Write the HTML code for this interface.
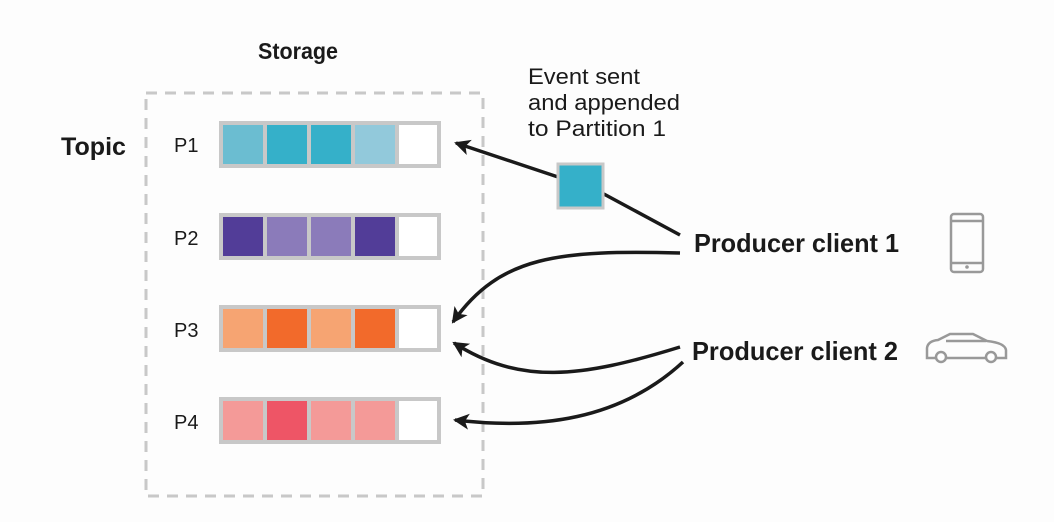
<!DOCTYPE html>
<html><head><meta charset="utf-8"><style>
html,body{margin:0;padding:0;background:#fdfdfd;}
svg{display:block;}
text{font-family:"Liberation Sans",sans-serif;fill:#1a1a1a;}
</style></head><body>
<svg width="1054" height="522" viewBox="0 0 1054 522" xmlns="http://www.w3.org/2000/svg">
<defs>
<marker id="a2" markerWidth="18" markerHeight="18" refX="14" refY="9" orient="auto" markerUnits="userSpaceOnUse">
<path d="M0,1 L16,9 L0,17 L4,9 Z" fill="#1a1a1a"/>
</marker>
</defs>
<rect x="146" y="93" width="337" height="403" fill="none" stroke="#c8c8c8" stroke-width="3" stroke-dasharray="11,8"/>
<text x="258" y="59" font-size="23" font-weight="bold" textLength="80" lengthAdjust="spacingAndGlyphs">Storage</text>
<text x="61" y="155" font-size="25" font-weight="bold" textLength="65" lengthAdjust="spacingAndGlyphs">Topic</text>
<text x="174" y="152" font-size="20">P1</text>
<text x="174" y="245" font-size="20">P2</text>
<text x="174" y="337" font-size="20">P3</text>
<text x="174" y="429" font-size="20">P4</text>
<g stroke="#c8c8c8" stroke-width="4">
<rect x="221" y="123" width="218" height="43" fill="#c8c8c8"/>
<rect x="221" y="215" width="218" height="43" fill="#c8c8c8"/>
<rect x="221" y="307" width="218" height="43" fill="#c8c8c8"/>
<rect x="221" y="399" width="218" height="43" fill="#c8c8c8"/>
</g>
<g>
<rect x="223" y="125" width="40" height="39" fill="#6bbdd1"/><rect x="267" y="125" width="40" height="39" fill="#35b0c9"/><rect x="311" y="125" width="40" height="39" fill="#35b0c9"/><rect x="355" y="125" width="40" height="39" fill="#92c9db"/><rect x="399" y="125" width="38" height="39" fill="#fff"/>
<rect x="223" y="217" width="40" height="39" fill="#523d98"/><rect x="267" y="217" width="40" height="39" fill="#8b7bba"/><rect x="311" y="217" width="40" height="39" fill="#8b7bba"/><rect x="355" y="217" width="40" height="39" fill="#523d98"/><rect x="399" y="217" width="38" height="39" fill="#fff"/>
<rect x="223" y="309" width="40" height="39" fill="#f6a472"/><rect x="267" y="309" width="40" height="39" fill="#f26a2b"/><rect x="311" y="309" width="40" height="39" fill="#f6a472"/><rect x="355" y="309" width="40" height="39" fill="#f26a2b"/><rect x="399" y="309" width="38" height="39" fill="#fff"/>
<rect x="223" y="401" width="40" height="39" fill="#f49a98"/><rect x="267" y="401" width="40" height="39" fill="#ee5566"/><rect x="311" y="401" width="40" height="39" fill="#f49a98"/><rect x="355" y="401" width="40" height="39" fill="#f49a98"/><rect x="399" y="401" width="38" height="39" fill="#fff"/>
</g>
<text font-size="22" lengthAdjust="spacingAndGlyphs">
<tspan x="528" y="84" textLength="112" lengthAdjust="spacingAndGlyphs">Event sent</tspan></text>
<text x="528" y="110" font-size="22" textLength="152" lengthAdjust="spacingAndGlyphs">and appended</text>
<text x="528" y="136" font-size="22" textLength="138" lengthAdjust="spacingAndGlyphs">to Partition 1</text>
<g fill="none" stroke="#1a1a1a" stroke-width="3.5">
<line x1="680" y1="235" x2="602" y2="193"/>
<line x1="558" y1="177" x2="456" y2="143" marker-end="url(#a2)"/>
<path d="M680,253 C560,250 500,255 453,322" marker-end="url(#a2)"/>
<path d="M680,347 C580,378 520,385 454,343" marker-end="url(#a2)"/>
<path d="M683,362 C620,420 540,430 455,420" marker-end="url(#a2)"/>
</g>
<rect x="558" y="164" width="45" height="44" fill="#35b0c9" stroke="#c8c8c8" stroke-width="3"/>
<text x="694" y="252" font-size="26" font-weight="bold" textLength="205" lengthAdjust="spacingAndGlyphs">Producer client 1</text>
<text x="692" y="360" font-size="26" font-weight="bold" textLength="206" lengthAdjust="spacingAndGlyphs">Producer client 2</text>
<g fill="none" stroke="#999" stroke-width="2.5">
<rect x="951" y="214" width="32" height="58" rx="3"/>
<line x1="951" y1="221" x2="983" y2="221"/>
<line x1="951" y1="263" x2="983" y2="263"/>
<path d="M927,358 L927,348 Q928,341 938,340 L950,334 L973,334 L987,341 Q1005,343 1006,350 L1006,358 Z"/>
<line x1="946" y1="341" x2="986" y2="341"/>
<circle cx="941" cy="357" r="5" fill="#fff"/>
<circle cx="991" cy="357" r="5" fill="#fff"/>
</g>
<circle cx="967" cy="267" r="1.8" fill="#999"/>
</svg>
</body></html>
